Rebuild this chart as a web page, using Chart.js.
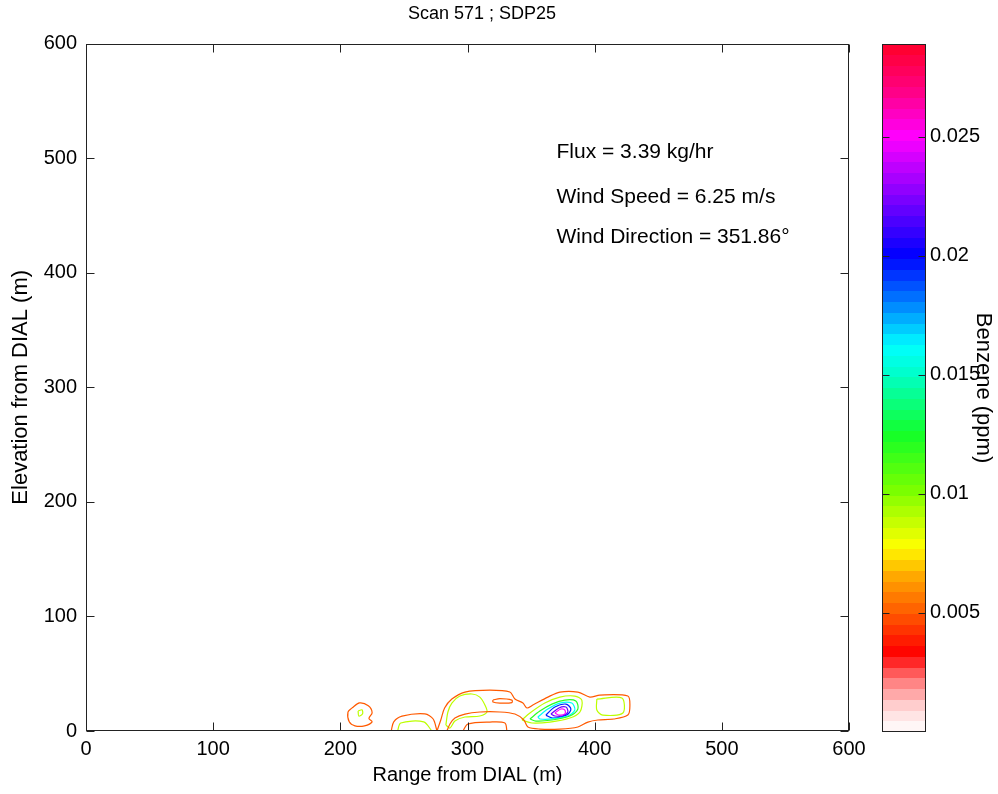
<!DOCTYPE html>
<html>
<head>
<meta charset="utf-8">
<title>Scan 571 ; SDP25</title>
<script src="https://cdn.jsdelivr.net/npm/chart.js@4.4.1/dist/chart.umd.min.js"></script>
<style>
  html, body { margin: 0; padding: 0; background: #fff; }
  #wrap { position: relative; width: 998px; height: 794px; }
  #mainChart { position: absolute; left: 0; top: 0; }
  #barChart { position: absolute; left: 860px; top: 0; }
</style>
</head>
<body>
<div id="wrap">
  <canvas id="mainChart" width="998" height="794"></canvas>
  <canvas id="barChart" width="138" height="794"></canvas>
</div>
<script>
// axes
const xTicks = [0, 100, 200, 300, 400, 500, 600];
const yTicks = [0, 100, 200, 300, 400, 500, 600];
const colorbarTicks = [0.005, 0.01, 0.015, 0.02, 0.025];
const colorbarRange = [0, 0.0289];

// contour lines, [range m, elevation m]
const orangeSmall = [[209,20],[215,24.5],[222,22],[225,16],[222.5,11],[225,8],[219,4.5],[211.5,4.5],[207,8],[206,16.5],[209,20]];
const limeSmall = [[214,17.5],[217,18.5],[217.5,15],[214.5,13],[214,17.5]];
const orangeDish = [[240,0],[242,8],[248.5,13],[266.5,15],[273,10.5],[276,0]];
const limeDish = [[245,0],[247.5,7],[265.5,8],[272,0]];
const orangeMain = [[276,0],[279,9.6],[282,20],[287.7,27.9],[298,34],[317.6,35.7],[333.3,34],[337.3,27.9],[343.6,24.4],[346.7,20.1],
  [351.4,22.7],[363.2,29.6],[372.6,34],[386.8,34],[396.2,29.6],[404.1,31.4],[426.1,30.5],[427.7,21.8],[426.1,13.9],[415.1,10.5],
  [402.5,9.6],[394.7,7.8],[386.8,3.5],[372.6,1.7],[356.9,1.7],[347.5,3.5],[344.3,9.6],[337.3,14.8],[325.5,16.6],[309.7,16.6],
  [298,14.8],[290.1,11.3],[286.2,6.1],[283.8,0]];
const orangeDash = [[320,27],[325.5,28.3],[334.9,27],[334.9,24.8],[325.5,24.4],[320,25.3],[320,27]];
const orangeStrip = [[296.4,0],[300.3,6.1],[317.6,7.8],[329.4,7],[331,0]];
const limeLeft = [[283,5.2],[284.6,16.6],[287.7,24.4],[294,30.5],[303.5,32.3],[309.7,29.6],[313.7,22.7],[315.3,16.6],
  [309.7,13.1],[298,12.2],[290.1,8.7],[286.2,2.6],[283,5.2]];
const limePeak = [[342.8,9.6],[349.1,15.7],[360.8,24.4],[372.6,29.6],[384.4,30.5],[389.9,27],[388.4,16.6],[380.5,11.3],
  [364.8,7.8],[350.6,7],[342.8,9.6]];
const limeRight = [[401.7,27.9],[421.4,28.8],[422.2,15.7],[406.4,13.9],[401.7,18.3],[401.7,27.9]];
const greenPeak = [[349.1,10.5],[356.9,17.4],[366.4,23.5],[376.6,27],[385.2,26.2],[386.8,19.2],[380.5,13.1],[366.4,9.6],[353.8,8.7],[349.1,10.5]];
const cyanPeak = [[355.3,12.2],[363.2,19.2],[372.6,24.4],[382,24.4],[384.4,18.3],[378.9,13.1],[366.4,10.5],[356.9,10.5],[355.3,12.2]];
const bluePeak = [[361.6,13.9],[368.7,20.9],[377.4,23.5],[381.3,19.2],[378.1,13.9],[367.1,11.3],[361.6,13.9]];
const purplePeak = [[365.6,14.8],[371.9,20.1],[377.4,20.9],[378.9,16.6],[375,13.1],[368.7,13.1],[365.6,14.8]];
const magentaPeak = [[368.7,15.7],[373.4,19.2],[376.6,18.3],[376.6,14.8],[371.9,13.9],[368.7,15.7]];

const contours = [
  { level: 0.005, pts: orangeSmall },
  { level: 0.009, pts: limeSmall },
  { level: 0.005, pts: orangeDish },
  { level: 0.009, pts: limeDish },
  { level: 0.005, pts: orangeMain },
  { level: 0.005, pts: orangeDash },
  { level: 0.005, pts: orangeStrip },
  { level: 0.009, pts: limeLeft },
  { level: 0.009, pts: limePeak },
  { level: 0.009, pts: limeRight },
  { level: 0.012, pts: greenPeak },
  { level: 0.016, pts: cyanPeak },
  { level: 0.0195, pts: bluePeak },
  { level: 0.022, pts: purplePeak },
  { level: 0.025, pts: magentaPeak }
];

const textNotes = [
  { x: 370, y: 500.5, text: 'Flux = 3.39 kg/hr' },
  { x: 370, y: 461, text: 'Wind Speed = 6.25 m/s' },
  { x: 370, y: 426, text: 'Wind Direction = 351.86\u00b0' }
];

// colour map (value -> rgb)
const cmapStops = [
  [0, [255,255,255]], [0.0010, [255,215,215]], [0.0022, [255,120,120]], [0.0033, [255,0,0]],
  [0.0050, [255,90,0]], [0.0065, [255,165,0]], [0.0078, [255,255,0]], [0.0102, [120,255,0]],
  [0.0125, [20,255,40]], [0.0150, [0,255,200]], [0.0162, [0,255,255]], [0.0180, [0,130,255]],
  [0.0200, [0,0,255]], [0.0225, [130,0,255]], [0.0250, [255,0,255]], [0.0270, [255,0,128]],
  [0.0289, [255,0,40]]
];

function cmap(v) {
  if (v <= cmapStops[0][0]) return 'rgb(' + cmapStops[0][1].join(',') + ')';
  for (let i = 1; i < cmapStops.length; i++) {
    const [v1, c1] = cmapStops[i];
    if (v <= v1) {
      const [v0, c0] = cmapStops[i - 1];
      const t = (v - v0) / (v1 - v0);
      const c = c0.map((a, k) => Math.round(a + (c1[k] - a) * t));
      return 'rgb(' + c.join(',') + ')';
    }
  }
  return 'rgb(' + cmapStops[cmapStops.length - 1][1].join(',') + ')';
}

Chart.defaults.font.family = '"Liberation Sans", Arial, sans-serif';
Chart.defaults.color = '#000';

// box + inward tick marks, like the original figure
const framePlugin = {
  id: 'frame',
  afterDatasetsDraw(chart, args, opts) {
    const { ctx, chartArea: a, scales } = chart;
    const len = opts.tickLen || 8;
    ctx.save();
    ctx.strokeStyle = '#222';
    ctx.lineWidth = 1;
    const l = Math.round(a.left) + 0.5, r = Math.round(a.right) - 0.5;
    const t = Math.round(a.top) + 0.5, b = Math.round(a.bottom) - 0.5;
    ctx.strokeRect(l, t, r - l, b - t);
    ctx.beginPath();
    if (opts.xTicks) {
      for (const tk of scales.x.ticks) {
        const px = Math.round(scales.x.getPixelForValue(tk.value)) + 0.5;
        ctx.moveTo(px, b); ctx.lineTo(px, b - len);
        ctx.moveTo(px, t); ctx.lineTo(px, t + len);
      }
    }
    for (const tk of scales.y.ticks) {
      const py = Math.round(scales.y.getPixelForValue(tk.value)) + 0.5;
      ctx.moveTo(l, py); ctx.lineTo(l + len, py);
      ctx.moveTo(r, py); ctx.lineTo(r - len, py);
    }
    ctx.stroke();
    ctx.restore();
  }
};

const notesPlugin = {
  id: 'notes',
  afterDatasetsDraw(chart) {
    const { ctx, scales } = chart;
    ctx.save();
    ctx.font = '21px "Liberation Sans", Arial, sans-serif';
    ctx.fillStyle = '#000';
    ctx.textAlign = 'left';
    ctx.textBaseline = 'alphabetic';
    textNotes.forEach(n => {
      ctx.fillText(n.text, scales.x.getPixelForValue(n.x), scales.y.getPixelForValue(n.y));
    });
    ctx.restore();
  }
};

const mainChart = new Chart(document.getElementById('mainChart'), {
  type: 'scatter',
  data: {
    datasets: contours.map(c => ({
      data: c.pts.map(p => ({ x: p[0], y: p[1] })),
      showLine: true,
      borderColor: cmap(c.level),
      borderWidth: 1.2,
      pointRadius: 0,
      tension: 0.3,
      fill: false
    }))
  },
  options: {
    responsive: false,
    animation: false,
    layout: { padding: { left: 0, right: 34, top: 0, bottom: 0 } },
    plugins: {
      legend: { display: false },
      tooltip: { enabled: false },
      title: {
        display: true,
        text: 'Scan 571 ; SDP25',
        font: { size: 18, weight: 'normal' },
        color: '#000',
        padding: { top: 3, bottom: 19 }
      },
      frame: { tickLen: 8, xTicks: true }
    },
    scales: {
      x: {
        type: 'linear', min: 0, max: 600,
        afterBuildTicks: s => { s.ticks = xTicks.map(v => ({ value: v })); },
        afterFit: s => { s.height = 63; },
        grid: { display: false, drawTicks: false },
        border: { display: false },
        ticks: { padding: 6, font: { size: 20 }, autoSkip: false, maxRotation: 0, callback: v => String(v) },
        title: { display: true, text: 'Range from DIAL (m)', font: { size: 20 }, padding: { top: 0, bottom: 7 } }
      },
      y: {
        type: 'linear', min: 0, max: 600,
        afterBuildTicks: s => { s.ticks = yTicks.map(v => ({ value: v })); },
        afterFit: s => { s.width = 86; },
        grid: { display: false, drawTicks: false },
        border: { display: false },
        ticks: { padding: 9, font: { size: 20 }, autoSkip: false, callback: v => String(v) },
        title: { display: true, text: 'Elevation from DIAL (m)', font: { size: 22 }, padding: { top: 8, bottom: 0 } }
      },
      // empty right axis: room for the colour bar, keeps the title centred as in the original
      yRight: {
        type: 'linear', position: 'right', min: 0, max: 600,
        afterFit: s => { s.width = 115; },
        grid: { display: false, drawTicks: false },
        border: { display: false },
        ticks: { display: false }
      }
    }
  },
  plugins: [framePlugin, notesPlugin]
});

// colour bar: one floating bar filled with the banded colour map
const nBands = 64;
const barChart = new Chart(document.getElementById('barChart'), {
  type: 'bar',
  data: {
    labels: ['Benzene'],
    datasets: [{
      data: [colorbarRange],
      borderWidth: 0,
      barPercentage: 1,
      categoryPercentage: 1,
      backgroundColor: c => {
        const { chart } = c;
        const y = chart.scales.y;
        if (!chart.chartArea || !y) return 'rgba(0,0,0,0)';
        const [lo, hi] = colorbarRange;
        const g = chart.ctx.createLinearGradient(0, y.getPixelForValue(lo), 0, y.getPixelForValue(hi));
        for (let i = 0; i < nBands; i++) {
          const col = cmap(lo + (i + 0.5) * (hi - lo) / nBands);
          g.addColorStop(i / nBands, col);
          g.addColorStop((i + 1) / nBands, col);
        }
        return g;
      }
    }]
  },
  options: {
    responsive: false,
    animation: false,
    layout: { padding: { left: 22, right: 0, top: 44, bottom: 62 } },
    plugins: {
      legend: { display: false },
      tooltip: { enabled: false },
      frame: { tickLen: 7, xTicks: false }
    },
    scales: {
      x: { display: false },
      y: {
        position: 'right',
        min: colorbarRange[0], max: colorbarRange[1],
        afterBuildTicks: s => { s.ticks = colorbarTicks.map(v => ({ value: v })); },
        afterFit: s => { s.width = 72; },
        grid: { display: false, drawTicks: false },
        border: { display: false },
        ticks: { padding: 4, font: { size: 20 }, autoSkip: false, callback: v => String(v) },
        title: { display: true, text: 'Benzene (ppm)', font: { size: 22 }, padding: { top: 2, bottom: 0 } }
      }
    }
  },
  plugins: [framePlugin]
});
</script>
</body>
</html>
